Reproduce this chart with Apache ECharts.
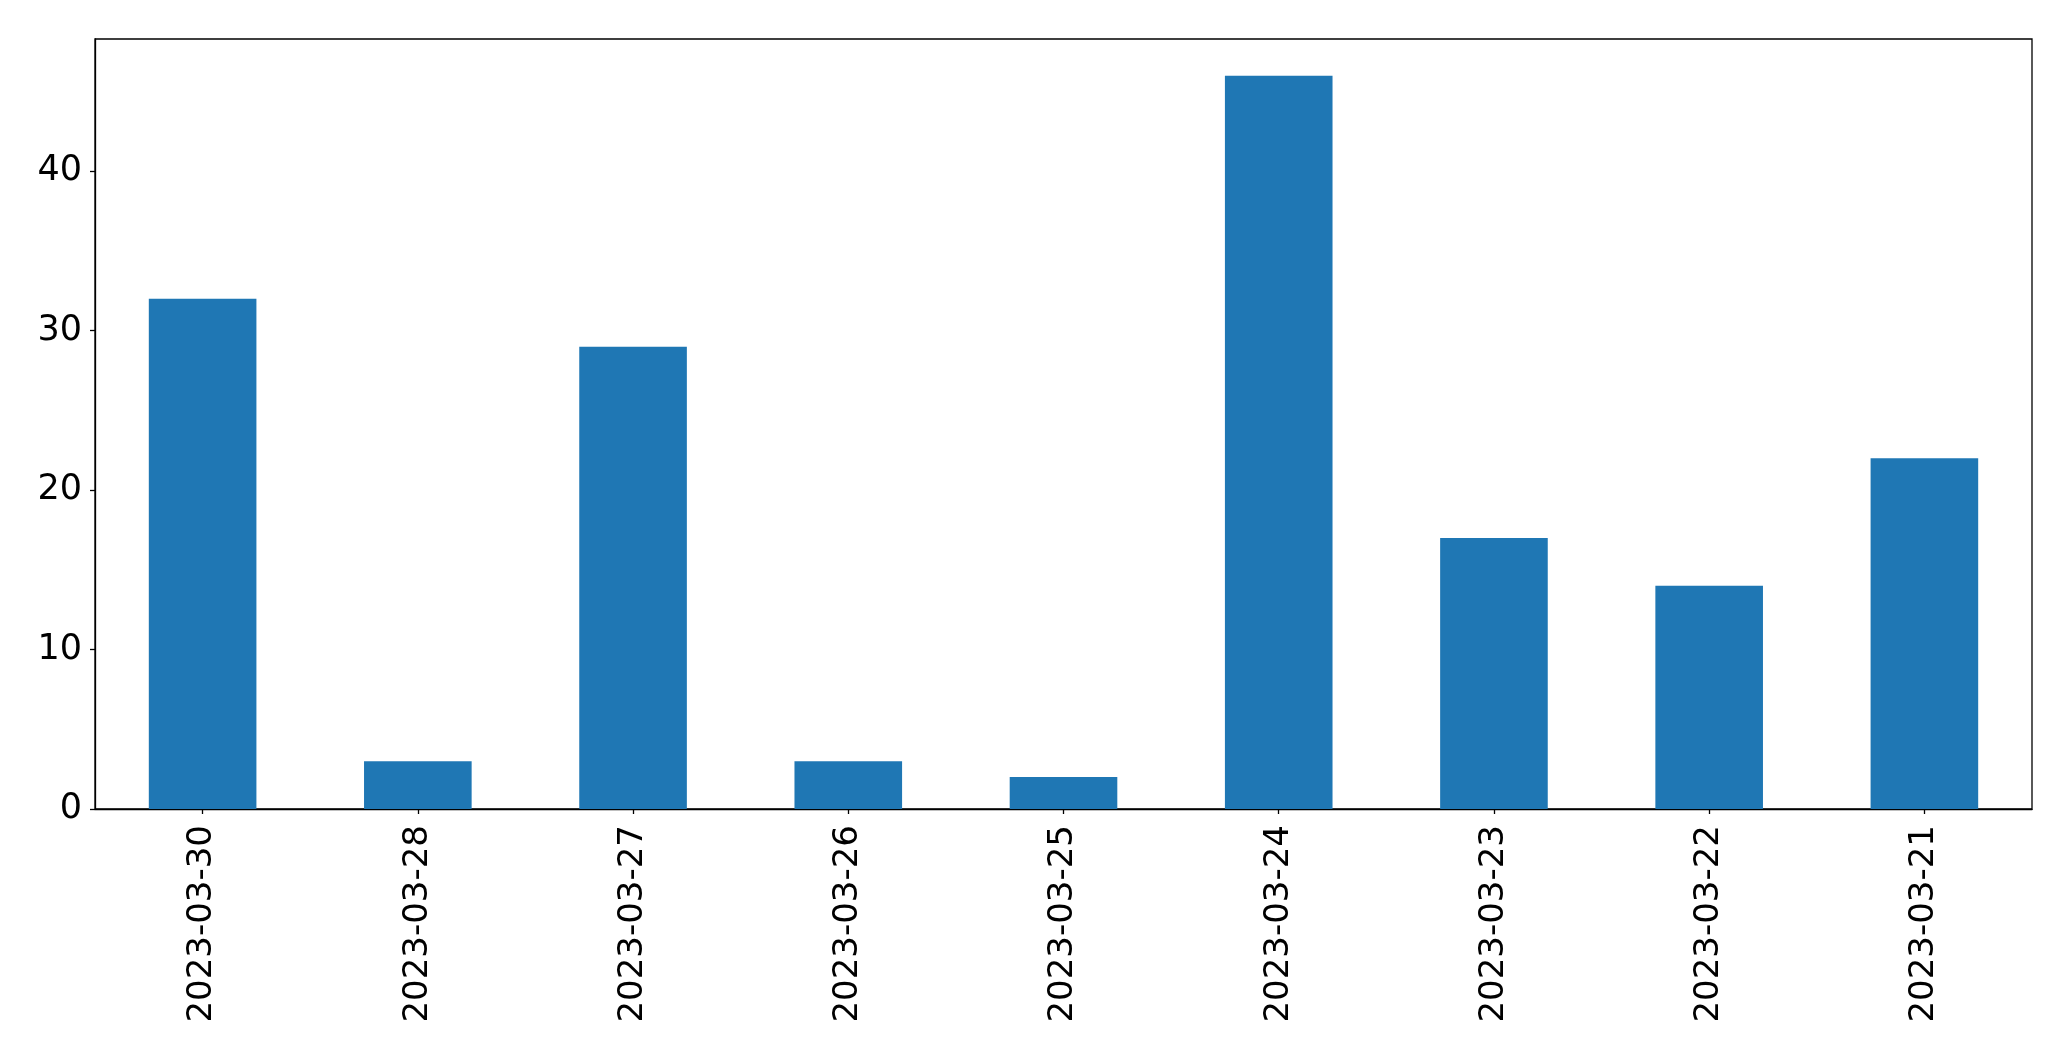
<!DOCTYPE html>
<html>
<head>
<meta charset="utf-8">
<script src="https://cdn.jsdelivr.net/npm/echarts@6/dist/echarts.min.js"></script>
<style>
html,body{margin:0;padding:0;background:#fff;}
#chart{width:2071px;height:1061px;}
</style>
</head>
<body>
<div id="chart"></div>
<script>
const categories = ["2023-03-30","2023-03-28","2023-03-27","2023-03-26","2023-03-25","2023-03-24","2023-03-23","2023-03-22","2023-03-21"];
const values = [32, 3, 29, 3, 2, 46, 17, 14, 22];
const yTicks = [0, 10, 20, 30, 40];

const chart = echarts.init(document.getElementById('chart'), null, {renderer:'canvas'});
const font = 'DejaVu Sans';
chart.setOption({
  animation: false,
  backgroundColor: '#fff',
  grid: {left: 95, right: 39, top: 39, bottom: 252, show: true, borderColor: '#000', borderWidth: 1.3, containLabel: false},
  xAxis: {
    type: 'category',
    data: categories,
    boundaryGap: true,
    axisLine: {show: true, lineStyle: {color: '#000', width: 1.3}},
    axisTick: {show: true, alignWithLabel: true, length: 5, lineStyle: {color: '#000', width: 1.3}},
    axisLabel: {rotate: 90, fontFamily: font, fontSize: 34, color: '#000', margin: 16, interval: 0},
    splitLine: {show: false}
  },
  yAxis: {
    type: 'value',
    min: 0,
    max: 48.3,
    interval: 10,
    axisLine: {show: true, lineStyle: {color: '#000', width: 1.3}},
    axisTick: {show: true, length: 5, lineStyle: {color: '#000', width: 1.3}, customValues: yTicks},
    axisLabel: {fontFamily: font, fontSize: 35, color: '#000', margin: 13, customValues: yTicks},
    splitLine: {show: false}
  },
  series: [{
    type: 'bar',
    data: values,
    barWidth: '50%',
    itemStyle: {color: '#1f77b4'}
  }]
});
</script>
</body>
</html>
